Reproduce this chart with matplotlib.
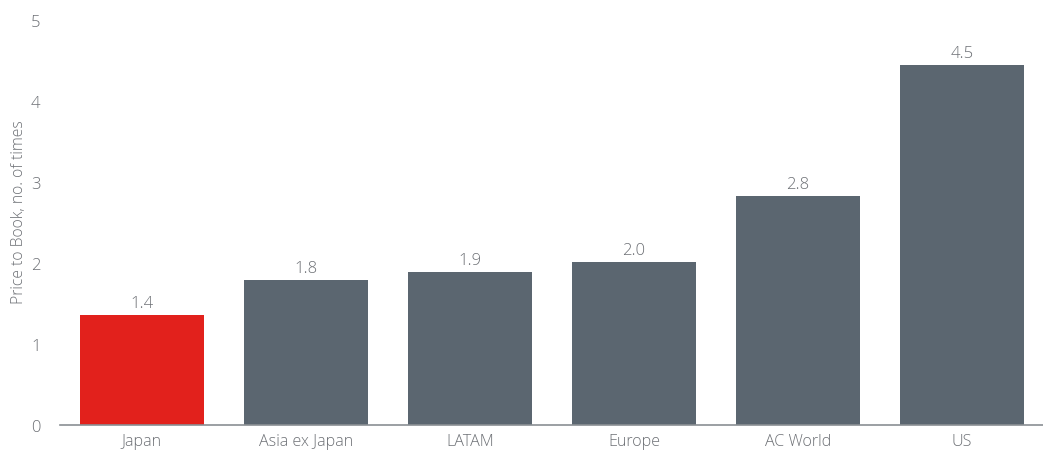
import matplotlib
matplotlib.use("Agg")
import matplotlib.pyplot as plt

categories = ["Japan", "Asia ex Japan", "LATAM", "Europe", "AC World", "US"]
values = [1.36, 1.79, 1.89, 2.01, 2.83, 4.44]
labels = ["1.4", "1.8", "1.9", "2.0", "2.8", "4.5"]
yticks = [0, 1, 2, 3, 4, 5]

plt.rcParams['font.family'] = ['Open Sans', 'DejaVu Sans']
plt.rcParams['font.weight'] = 'light'
txt = "#6d7075"
grey = "#5b6670"
red = "#e2211c"

fig = plt.figure(figsize=(10.43, 4.52), dpi=100)
ax = fig.add_axes([60/1043, 26/452, 984/1043, 405/452])
colors = [red] + [grey] * (len(categories) - 1)
x = list(range(len(categories)))
bars = ax.bar(x, values, width=0.756, color=colors)
for b, l in zip(bars, labels):
    ax.text(b.get_x() + b.get_width()/2, b.get_height() + 0.05, l,
            ha="center", va="bottom", fontsize=12, color=txt, fontweight="light")
ax.set_xlim(-0.5, len(categories) - 0.5)
ax.set_ylim(0, 5)
ax.set_yticks(yticks)
ax.set_yticklabels([str(t) for t in yticks])
ax.set_xticks(x)
ax.set_xticklabels(categories)
ax.tick_params(axis="both", length=0, labelsize=11.6, labelcolor=txt)
ax.tick_params(axis="y", pad=14, labelsize=12)
ax.tick_params(axis="x", pad=6)
for s in ["top", "right", "left"]:
    ax.spines[s].set_visible(False)
ax.spines["bottom"].set_color("#8a8f94")
ax.spines["bottom"].set_linewidth(1.2)
ax.set_ylabel("Price to Book, no. of times", fontsize=11.3, color=txt, labelpad=6,
              fontweight="light")
ax.yaxis.set_label_coords(-0.034, 0.528)
fig.savefig("out.png", dpi=100)
